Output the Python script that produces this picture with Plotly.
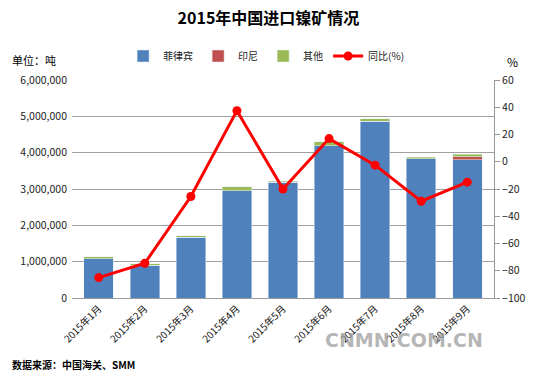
import plotly.graph_objects as go

months = ["2015年1月", "2015年2月", "2015年3月", "2015年4月", "2015年5月",
          "2015年6月", "2015年7月", "2015年8月", "2015年9月"]
philippines = [1080000, 900000, 1670000, 2950000, 3180000, 4190000, 4870000, 3830000, 3810000]
indonesia = [0, 0, 0, 0, 0, 0, 0, 0, 80000]
others = [50000, 40000, 40000, 110000, 40000, 110000, 60000, 50000, 70000]
yoy = [-85, -74.5, -25.5, 37.5, -20, 17, -2.5, -29, -15]

FONT = "Noto Sans CJK SC"

fig = go.Figure()
fig.add_trace(go.Bar(x=months, y=philippines, name="菲律宾", marker_color="#4F81BD"))
fig.add_trace(go.Bar(x=months, y=indonesia, name="印尼", marker_color="#C0504D"))
fig.add_trace(go.Bar(x=months, y=others, name="其他", marker_color="#9BBB59"))
fig.add_trace(go.Scatter(x=months, y=yoy, name="同比(%)", yaxis="y2", mode="lines+markers",
                         line=dict(color="#FF0000", width=3),
                         marker=dict(color="#FF0000", size=9)))

fig.update_layout(
    width=537, height=379,
    barmode="stack", bargap=0.36,
    paper_bgcolor="white", plot_bgcolor="white",
    margin=dict(l=72, r=43, t=80, b=81, autoexpand=False),
    font=dict(family=FONT, size=10, color="#222"),
    title=dict(text="<b>2015年中国进口镍矿情况</b>", x=0.5, xanchor="center", y=0.952,
               yanchor="middle", font=dict(size=16, color="#000")),
    showlegend=True,
    legend=dict(orientation="h", x=0.46, xanchor="center", y=1.11, yanchor="middle",
                font=dict(size=10), itemwidth=30, traceorder="normal"),
    xaxis=dict(showline=True, linecolor="#999", tickangle=-45, tickfont=dict(size=10, color="#111"),
               ticks="", showgrid=False, automargin=False),
    yaxis=dict(range=[0, 6000000], dtick=1000000, tickformat=",d", showgrid=True,
               gridcolor="#A0A0A0", gridwidth=1, showline=False, zeroline=False,
               tickfont=dict(size=10.5), automargin=False, ticklabelstandoff=4),
    yaxis2=dict(range=[-100, 60], dtick=20, overlaying="y", side="right", showgrid=False,
                showline=True, linecolor="#999", ticks="outside", ticklen=5,
                tickcolor="#999", zeroline=False, tickfont=dict(size=10.5), automargin=False),
    annotations=[
        dict(text="单位：吨", x=-0.147, y=1.092, xref="paper", yref="paper", showarrow=False,
             xanchor="left", yanchor="middle", font=dict(size=11, color="#000")),
        dict(text="%", x=1.043, y=1.083, xref="paper", yref="paper", showarrow=False,
             xanchor="center", yanchor="middle", font=dict(size=12, color="#000")),
        dict(text="<b>数据来源：中国海关、SMM</b>", x=-0.147, y=-0.307, xref="paper", yref="paper",
             showarrow=False, xanchor="left", yanchor="middle", font=dict(size=10, color="#000")),
        dict(text="<b>CNMN.COM.CN</b>", x=0.787, y=-0.193, xref="paper", yref="paper",
             showarrow=False, xanchor="center", yanchor="middle",
             font=dict(size=19, color="rgba(150,150,150,0.7)", family="DejaVu Sans")),
    ],
)

fig.write_html("out.html", config={"displayModeBar": False},
               post_script="document.body.style.margin='0';document.body.style.overflow='hidden';")
